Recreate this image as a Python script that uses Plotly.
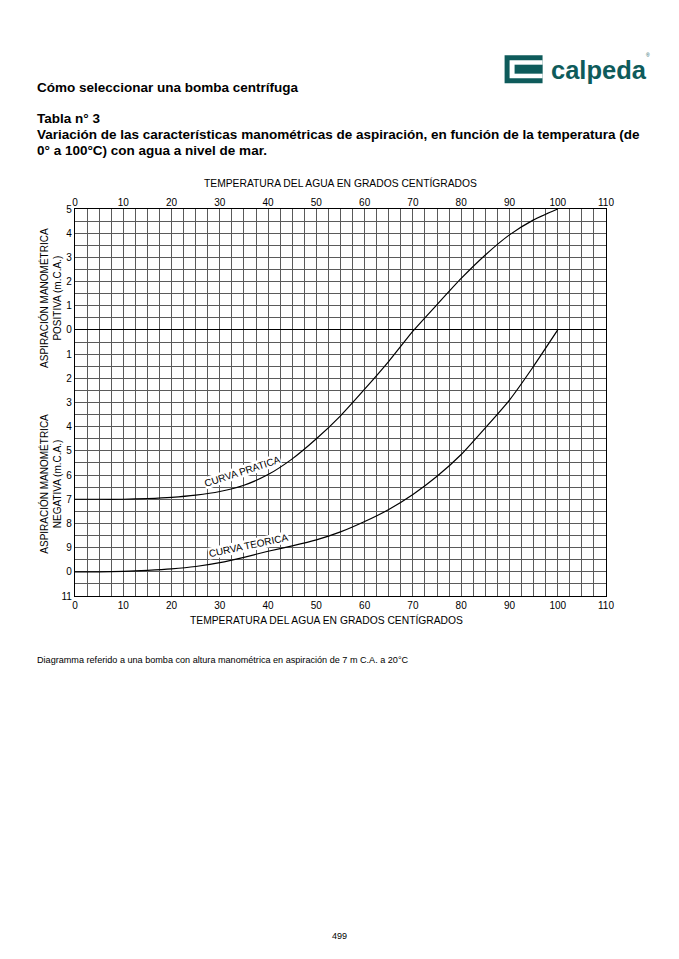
import plotly.graph_objects as go

# -----------------------------
# Data
# -----------------------------
temp_c = [0, 5, 10, 15, 20, 25, 30, 35, 40, 45, 50, 55, 60, 65, 70, 75, 80, 85, 90, 95, 100]

curva_pratica = [-7.0, -7.0, -7.0, -6.97, -6.92, -6.83, -6.68, -6.42, -5.98, -5.33, -4.5,
                 -3.55, -2.45, -1.3, -0.05, 1.05, 2.13, 3.1, 3.93, 4.55, 5.0]

curva_teorica = [-10.0, -10.0, -9.98, -9.94, -9.88, -9.78, -9.62, -9.4, -9.15, -8.93, -8.68,
                 -8.35, -7.92, -7.42, -6.8, -6.05, -5.15, -4.05, -2.9, -1.5, 0.0]

x_ticks = [0, 10, 20, 30, 40, 50, 60, 70, 80, 90, 100, 110]
y_ticks = [5, 4, 3, 2, 1, 0, -1, -2, -3, -4, -5, -6, -7, -8, -9, -10, -11]
y_tick_labels = ["5", "4", "3", "2", "1", "0", "1", "2", "3", "4", "5", "6", "7", "8", "9", "0", "11"]

axis_title = "TEMPERATURA DEL AGUA EN GRADOS CENTÍGRADOS"

# -----------------------------
# Page geometry (pixels on the page; body has an 8px margin)
# -----------------------------
OFF = 8
W, H = 679 - OFF, 959 - OFF
PL, PR, PT, PB = 75, 606.5, 209, 596.5
FONT = "Liberation Sans, Arial, Helvetica, sans-serif"
TEAL = "#0e5b5b"
GRID = "#5a5a5a"


def px(x):
    return (x - PL) / (PR - PL)


def py(y):
    return (PB - y) / (PB - PT)


fig = go.Figure()

for name, vals in [("CURVA PRATICA", curva_pratica), ("CURVA TEORICA", curva_teorica)]:
    fig.add_trace(go.Scatter(
        x=temp_c, y=vals, mode="lines", name=name,
        line=dict(color="black", width=1.2, shape="spline", smoothing=0.6),
        showlegend=False, hoverinfo="skip",
    ))

fig.update_layout(
    width=W, height=H,
    margin=dict(l=PL - OFF, r=679 - PR, t=PT - OFF, b=959 - PB, pad=0),
    paper_bgcolor="white", plot_bgcolor="white",
    font=dict(family=FONT, size=10, color="black"),
    xaxis=dict(
        range=[0, 110], tickvals=x_ticks, ticks="", zeroline=False,
        showline=True, linecolor="black", linewidth=1.2, mirror=True,
        showgrid=True, gridcolor=GRID, gridwidth=0.6,
        minor=dict(dtick=2.5, showgrid=True, gridcolor=GRID, gridwidth=0.6),
        tickfont=dict(size=10),
    ),
    xaxis2=dict(
        range=[0, 110], tickvals=x_ticks, ticks="", overlaying="x", side="top",
        showgrid=False, zeroline=False, tickfont=dict(size=10),
    ),
    yaxis=dict(
        range=[-11, 5], tickvals=y_ticks, ticktext=y_tick_labels, ticks="",
        showline=True, linecolor="black", linewidth=1.2, mirror=True,
        zeroline=True, zerolinecolor="black", zerolinewidth=1.2,
        showgrid=True, gridcolor=GRID, gridwidth=0.6,
        minor=dict(dtick=0.5, showgrid=True, gridcolor=GRID, gridwidth=0.6),
        tickfont=dict(size=10),
    ),
)

# invisible trace to activate top axis
fig.add_trace(go.Scatter(x=[0, 110], y=[0, 0], xaxis="x2", mode="lines",
                         line=dict(width=0), showlegend=False, hoverinfo="skip"))

ann = []
# axis titles
ann.append(dict(x=px(341), y=py(183), text=axis_title, font=dict(size=10.3)))
ann.append(dict(x=px(327), y=py(621), text=axis_title, font=dict(size=10.3)))
ann.append(dict(x=px(51), y=py(298), text="ASPIRACIÓN MANOMÉTRICA<br>POSITIVA (m.C.A.)",
                textangle=-90, font=dict(size=10)))
ann.append(dict(x=px(51), y=py(484), text="ASPIRACIÓN MANOMÉTRICA<br>NEGATIVA (m.C.A.)",
                textangle=-90, font=dict(size=10)))

# headings
head = [("Cómo seleccionar una bomba centrífuga", 87),
        ("Tabla n° 3", 118),
        ("Variación de las características manométricas de aspiración, en función de la temperatura (de", 134),
        ("0° a 100°C) con agua a nivel de mar.", 150)]
for t, yy in head:
    ann.append(dict(x=px(35), y=py(yy), text="<b>" + t + "</b>", xanchor="left",
                    font=dict(size=13.5)))

ann.append(dict(x=px(35), y=py(661), xanchor="left", font=dict(size=9.1),
                text="Diagramma referido a una bomba con altura manométrica en aspiración de 7 m C.A. a 20°C"))
ann.append(dict(x=px(340), y=py(937), text="499", font=dict(size=9)))

# logo text
ann.append(dict(x=px(549), y=py(70), xanchor="left", text="<b>calpeda</b>",
                font=dict(size=25.5, color=TEAL)))
ann.append(dict(x=px(649), y=py(55), text="®", font=dict(size=5, color=TEAL)))

for a in ann:
    a.setdefault("xref", "paper")
    a.setdefault("yref", "paper")
    a.setdefault("showarrow", False)
    a.setdefault("xanchor", "center")
    a.setdefault("yanchor", "middle")
    fig.add_annotation(**a)

# curve labels on the chart
fig.add_annotation(x=34.6, y=-5.87, text="CURVA PRATICA", textangle=-18, showarrow=False,
                   bgcolor="white", font=dict(size=10), borderpad=0)
fig.add_annotation(x=35.9, y=-8.9, text="CURVA TEORICA", textangle=-12, showarrow=False,
                   bgcolor="white", font=dict(size=10), borderpad=0)


# logo mark
def rect(x0, y0, x1, y1, color):
    fig.add_shape(type="rect", xref="paper", yref="paper",
                  x0=px(x0), x1=px(x1), y0=py(y1), y1=py(y0),
                  fillcolor=color, line=dict(width=0), layer="above")


rect(505, 55, 543, 83, TEAL)
rect(510, 60, 543, 78, "white")
rect(515, 64.5, 543, 73.5, TEAL)

fig.write_html("out.html")
